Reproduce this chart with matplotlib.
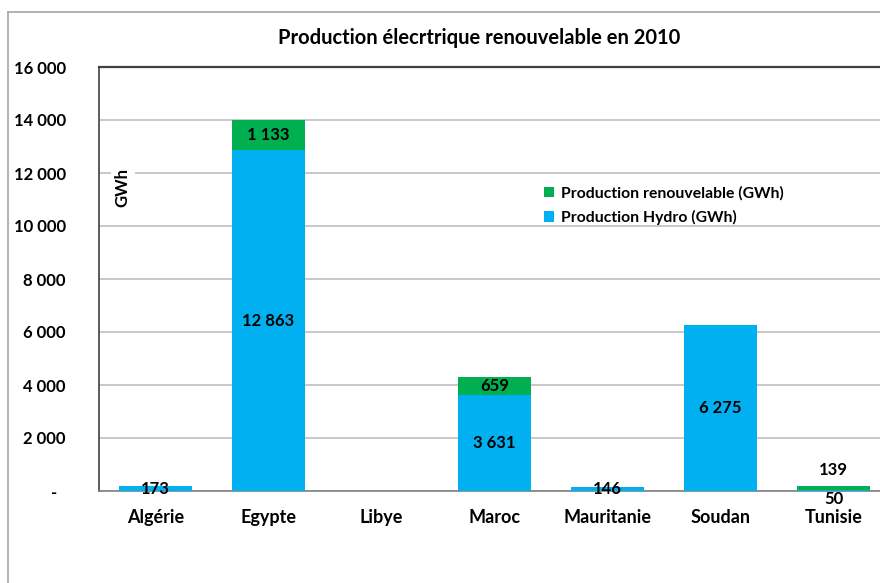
import matplotlib.pyplot as plt
from matplotlib.lines import Line2D
from matplotlib.ticker import FuncFormatter

plt.rcParams['font.family'] = ['Lato', 'DejaVu Sans']
plt.rcParams['font.weight'] = 'bold'

pays = ["Algérie", "Egypte", "Libye", "Maroc", "Mauritanie", "Soudan", "Tunisie"]
hydro = [173, 12863, 0, 3631, 146, 6275, 50]
renouv = [0, 1133, 0, 659, 0, 0, 139]

BLUE = '#00B0F0'
GREEN = '#00B050'

fig = plt.figure(figsize=(8.8, 5.83), dpi=100)
ax = fig.add_axes([99 / 880, 92 / 583, 791 / 880, 424 / 583])

x = range(len(pays))
ax.bar(x, hydro, width=0.65, color=BLUE, zorder=3, label="Production Hydro (GWh)")
ax.bar(x, renouv, width=0.65, bottom=hydro, color=GREEN, zorder=3,
       label="Production renouvelable (GWh)")

def fmt(v):
    return f"{v:,}".replace(",", " ")

# data labels (centre of each segment, Tunisie moved by hand like the original)
for i in x:
    h = hydro[i]
    r = renouv[i]
    if pays[i] == "Tunisie":
        ax.text(i, -310, fmt(h), ha='center', va='center', fontsize=12, zorder=5)
        ax.text(i, 790, fmt(r), ha='center', va='center', fontsize=12, zorder=5)
        continue
    if h > 0:
        ax.text(i, h / 2, fmt(h), ha='center', va='center', fontsize=12, zorder=5)
    if r > 0:
        ax.text(i, h + r / 2, fmt(r), ha='center', va='center', fontsize=12, zorder=5)

ax.set_xlim(-0.5, len(pays) - 0.5)
ax.set_ylim(0, 16000)
ax.set_yticks(range(0, 16001, 2000))
ax.yaxis.set_major_formatter(FuncFormatter(lambda v, p: "-  " if v == 0 else fmt(int(v))))
ax.set_xticks(list(x))
ax.set_xticklabels(pays)
ax.tick_params(axis='y', length=0, pad=24, labelsize=12)
ax.tick_params(axis='x', length=0, pad=13, labelsize=13)

ax.grid(axis='y', color='#BFBFBF', linewidth=1.2, zorder=0)
ax.set_axisbelow(True)
ax.spines['left'].set_color('#404040')
ax.spines['top'].set_color('#404040')
ax.spines['top'].set_linewidth(1.6)
ax.spines['left'].set_linewidth(1.2)
ax.spines['bottom'].set_color('#808080')
ax.spines['bottom'].set_linewidth(1.2)
ax.spines['right'].set_visible(False)

ax.text(-0.29, 11450, "GWh", rotation=90, ha='center', va='center', fontsize=12,
        bbox=dict(facecolor='white', edgecolor='none', pad=3), zorder=4)

handles, labels = ax.get_legend_handles_labels()
leg = fig.legend(handles[::-1], labels[::-1], loc='upper left',
                 bbox_to_anchor=(530 / 880, 1 - 172 / 583), frameon=False,
                 fontsize=11.3, handlelength=0.65, handleheight=0.65,
                 handletextpad=0.4, labelspacing=0.6)

fig.text(479 / 880, 1 - 38 / 583, "Production élecrtrique renouvelable en 2010",
         ha='center', va='center', fontsize=14.5)

# outer chart border
fig.add_artist(Line2D([8 / 880, 8 / 880], [0, 1 - 12 / 583], color='#A6A6A6', linewidth=1.2))
fig.add_artist(Line2D([8 / 880, 1], [1 - 12 / 583, 1 - 12 / 583], color='#A6A6A6', linewidth=1.2))

fig.savefig("out.png", dpi=100)
